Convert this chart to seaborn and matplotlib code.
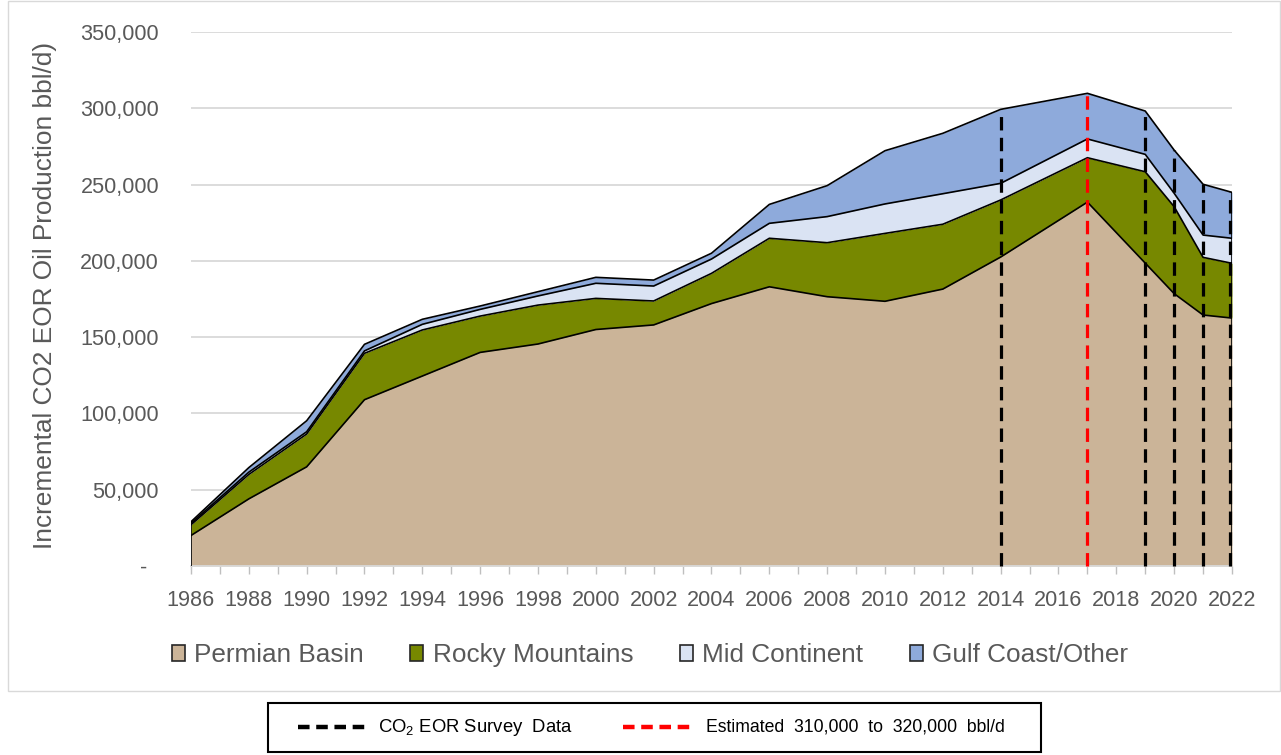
import numpy as np
import pandas as pd
import matplotlib
matplotlib.use("Agg")
import matplotlib.pyplot as plt
import matplotlib.font_manager as fm
from matplotlib.patches import Rectangle, Patch
from matplotlib.lines import Line2D
import seaborn as sns

# ---------------- data (bbl/d) ----------------
years = [1986, 1988, 1990, 1992, 1994, 1996, 1998, 2000, 2002, 2004,
         2006, 2008, 2010, 2012, 2014, 2017, 2019, 2020, 2021, 2022]
permian = [20000, 44000, 65000, 109000, 124500, 140000, 145500, 155000, 158000, 172000,
           183000, 176500, 173500, 181500, 202500, 238500, 198500, 178500, 164500, 162500]
rocky = [7000, 16000, 21500, 30400, 30200, 23800, 25500, 20400, 15700, 19800,
         31800, 35400, 44500, 42500, 37400, 29100, 59900, 57000, 37800, 35900]
mid = [1000, 1500, 1500, 1600, 3700, 4400, 6000, 9900, 9800, 9400,
       9800, 17100, 19300, 20000, 10900, 12300, 11400, 8800, 14600, 16400]
gulf = [1000, 3000, 7200, 4300, 3300, 2200, 2800, 3900, 3900, 3800,
        12400, 20300, 34900, 39600, 48500, 29900, 28400, 28300, 33300, 30100]

series_names = ["Permian Basin", "Rocky Mountains", "Mid Continent", "Gulf Coast/Other"]
series_colors = ["#CBB498", "#778800", "#DAE3F3", "#8EAADB"]

survey_years = [2014, 2019, 2020, 2021, 2022]
estimate_years = [2017]

xtick_values = list(range(1986, 2023, 2))
xtick_labels = [str(v) for v in xtick_values]
ytick_values = [0, 50000, 100000, 150000, 200000, 250000, 300000, 350000]
ytick_labels = ["-  ", "50,000", "100,000", "150,000", "200,000", "250,000", "300,000", "350,000"]

ylabel_text = "Incremental CO2 EOR Oil Production bbl/d)"
survey_label = r"CO$_2$ EOR Survey  Data"
estimate_label = "Estimated  310,000  to  320,000  bbl/d"

# ---------------- fonts ----------------
sns.set_theme(style="white")
names = {f.name for f in fm.fontManager.ttflist}
if "Liberation Sans Narrow" in names:
    FAM, k = "Liberation Sans Narrow", 1.0
else:
    FAM, k = "Liberation Sans", 0.82
plt.rcParams["font.family"] = [FAM, "DejaVu Sans"]
plt.rcParams["mathtext.fontset"] = "custom"
plt.rcParams["mathtext.rm"] = FAM
plt.rcParams["mathtext.it"] = FAM
plt.rcParams["mathtext.bf"] = FAM
plt.rcParams["mathtext.default"] = "regular"

TXT = "#595959"
GRID = "#d9d9d9"

W, H = 1281, 755
fig = plt.figure(figsize=(W / 100, H / 100), dpi=100)
ax = fig.add_axes([191 / W, 1 - 566 / H, (1232 - 191) / W, (566 - 32) / H])

# ---------------- stacked areas ----------------
df = pd.DataFrame({"year": years, "Permian Basin": permian, "Rocky Mountains": rocky,
                   "Mid Continent": mid, "Gulf Coast/Other": gulf})
lower = np.zeros(len(years))
tops = []
for name, col in zip(series_names, series_colors):
    upper = lower + df[name].to_numpy()
    ax.fill_between(df["year"], lower, upper, color=col, linewidth=0, zorder=1)
    tops.append(upper.copy())
    lower = upper
total = lower

for upper in tops:
    sns.lineplot(x=df["year"], y=upper, color="black", linewidth=1.2, ax=ax,
                 zorder=3, estimator=None, sort=False)
ax.vlines([years[0], years[-1]], 0, [total[0], total[-1]], color="black", linewidth=1.2, zorder=3)

# ---------------- vertical dashed lines ----------------
for yr in survey_years:
    t = total[years.index(yr)]
    xp = yr - 0.08 if yr == years[-1] else yr
    ax.plot([xp, xp], [0, t], color="black", linewidth=2.3, dashes=(4.2, 2.3),
            zorder=4, clip_on=False)
for yr in estimate_years:
    t = total[years.index(yr)]
    ax.plot([yr, yr], [0, t], color="#FF0000", linewidth=2.3, dashes=(4.2, 2.3),
            zorder=4, clip_on=False)

# ---------------- axes styling ----------------
ax.set_xlim(1986, 2022)
ax.set_ylim(0, 350000)
ax.set_xticks(xtick_values, xtick_labels)
ax.set_xticks(range(1986, 2023), minor=True)
ax.set_yticks(ytick_values, ytick_labels)
ax.tick_params(axis="x", which="both", bottom=True, length=6, width=1, color="#bfbfbf",
               direction="out", labelsize=19 * k, labelcolor=TXT, pad=11)
ax.tick_params(axis="y", left=False, length=0, labelsize=19 * k, labelcolor=TXT, pad=23)
ax.set_xlabel("")
ax.set_ylabel(ylabel_text, fontsize=23 * k, color=TXT)
ax.yaxis.set_label_coords(-0.1287, 0.507)
for s in ["left", "top", "right"]:
    ax.spines[s].set_visible(False)
ax.spines["bottom"].set_color(GRID)
ax.spines["bottom"].set_linewidth(1.3)
ax.yaxis.grid(True, color=GRID, linewidth=1.3)
ax.xaxis.grid(False)
ax.set_axisbelow(True)
ax.patch.set_alpha(0)

# ---------------- area legend ----------------
handles = [Patch(facecolor=c, edgecolor="#262626", linewidth=1.2, label=n)
           for n, c in zip(series_names, series_colors)]
fig.legend(handles=handles, loc="center", bbox_to_anchor=(650 / W, 1 - 655 / H), ncol=4,
           frameon=False, fontsize=22.9 * k, handlelength=0.5, handleheight=0.55,
           handletextpad=0.35, columnspacing=1.8, labelcolor=TXT)

# ---------------- outer chart border ----------------
fig.add_artist(Rectangle((8 / W, 1 - 691 / H), (1280 - 8) / W, (691 - 1) / H,
                         transform=fig.transFigure, fill=False, edgecolor=GRID, linewidth=1))

# ---------------- bottom line-legend box ----------------
fig.add_artist(Rectangle((268 / W, 1 - 752 / H), (1041 - 268) / W, (752 - 703) / H,
                         transform=fig.transFigure, fill=False, edgecolor="black", linewidth=1.5))
yc = 1 - 727 / H
fig.add_artist(Line2D([298 / W, 366 / W], [yc, yc], transform=fig.transFigure,
                      color="black", linewidth=3.2, dashes=(2.6, 1.5)))
fig.add_artist(Line2D([623 / W, 691 / W], [yc, yc], transform=fig.transFigure,
                      color="#FF0000", linewidth=3.2, dashes=(2.6, 1.5)))
fig.text(378 / W, yc, survey_label, ha="left", va="center", fontsize=16.2 * k, color="black")
fig.text(706 / W, yc, estimate_label, ha="left", va="center", fontsize=15.5 * k, color="black")

fig.savefig("out.png", dpi=100)
